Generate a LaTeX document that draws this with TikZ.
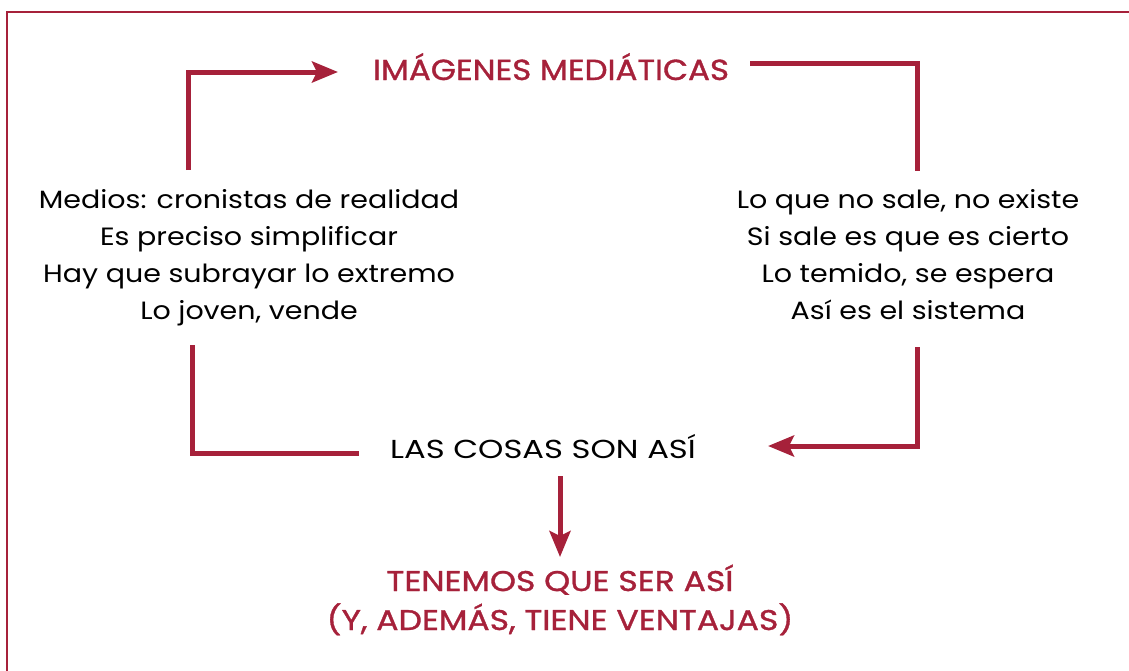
\documentclass[tikz,border=0pt]{standalone}
\usepackage{fontspec}
\setmainfont{Poppins}
\newfontfamily\blkfont[FakeStretch=1.14]{Poppins}
\newfontfamily\capsfont[FakeStretch=1.24]{Poppins}
\newfontfamily\redfont[FakeStretch=1.12, FakeBold=1.2]{Poppins}
\newfontfamily\redwide[FakeStretch=1.16, FakeBold=1.2]{Poppins}
\usetikzlibrary{arrows.meta}
\definecolor{crim}{HTML}{A6213A}
\tikzset{
  conn/.style={draw=crim, line width=5pt},
  arr/.style={conn, -{Stealth[length=26pt, width=21pt, inset=5pt]}},
  redtxt/.style={text=crim, font=\redfont\fontsize{29}{39}\selectfont, align=center, inner sep=0pt},
  blktxt/.style={text=black, font=\blkfont\fontsize{25}{36.7}\selectfont, align=center, inner sep=0pt},
}
\begin{document}
\begin{tikzpicture}[x=1pt, y=-1pt]
\useasboundingbox (0,0) rectangle (1129,670);
\draw[crim, line width=2pt] (7,672) -- (7,12) -- (1131,12);
\node[redtxt, anchor=base] (title) at (551,80) {IMÁGENES MEDIÁTICAS};
\node[blktxt, anchor=base] (left) at (249,319) {Medios: cronistas de realidad\\Es preciso simplificar\\Hay que subrayar lo extremo\\Lo joven, vende};
\node[blktxt, anchor=base] (right) at (908,319) {Lo que no sale, no existe\\Si sale es que es cierto\\Lo temido, se espera\\Así es el sistema};
\node[blktxt, font=\capsfont\fontsize{26}{36}\selectfont, anchor=base] (cosas) at (543,458) {LAS COSAS SON ASÍ};
\node[redtxt, font=\redwide\fontsize{28.5}{39}\selectfont, anchor=base] (tener) at (560,630) {TENEMOS QUE SER ASÍ\\(Y, ADEMÁS, TIENE VENTAJAS)};
\coordinate (l1) at (188,170);
\coordinate (t1) at (338,72);
\coordinate (t2) at (750,63);
\coordinate (r1) at (917,171);
\coordinate (r2) at (917,347);
\coordinate (c2) at (768,446);
\coordinate (l2) at (192,345);
\coordinate (c1) at (359,453);
\coordinate (d1) at (560,476);
\coordinate (d2) at (560,557);
\draw[arr] (l1) |- (t1);
\draw[conn] (t2) -| (r1);
\draw[arr] (r2) |- (c2);
\draw[conn] (l2) |- (c1);
\draw[arr] (d1) -- (d2);
\end{tikzpicture}
\end{document}
